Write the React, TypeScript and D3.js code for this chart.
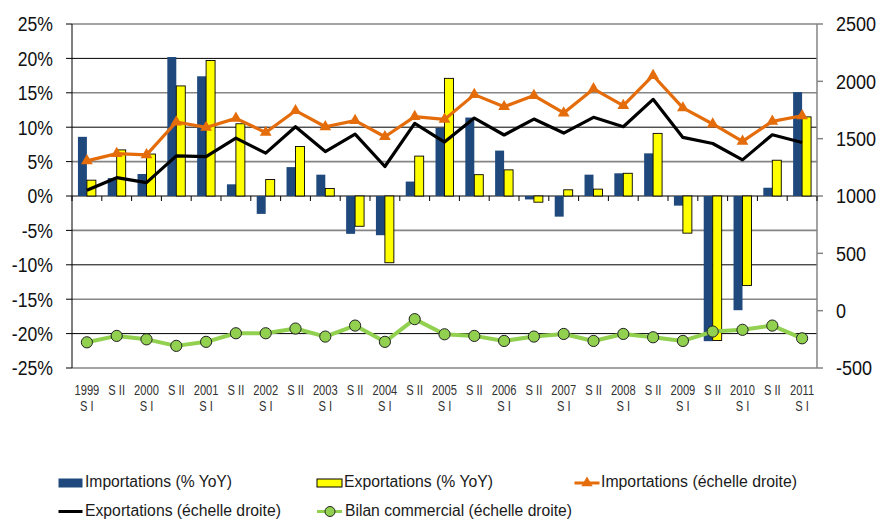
import React from "react";
import * as d3 from "d3";

// semesters, 1999 S I .. 2011 S I
const periods = [
  "1999 S I", "1999 S II", "2000 S I", "2000 S II", "2001 S I", "2001 S II",
  "2002 S I", "2002 S II", "2003 S I", "2003 S II", "2004 S I", "2004 S II",
  "2005 S I", "2005 S II", "2006 S I", "2006 S II", "2007 S I", "2007 S II",
  "2008 S I", "2008 S II", "2009 S I", "2009 S II", "2010 S I", "2010 S II",
  "2011 S I",
];

// % YoY (left axis)
const importsYoY = [8.6, 2.6, 3.2, 20.2, 17.4, 1.7, -2.6, 4.2, 3.1, -5.5, -5.7, 2.1, 9.9, 11.4, 6.6, -0.5, -3.0, 3.1, 3.3, 6.2, -1.4, -21.1, -16.6, 1.2, 15.1];
const exportsYoY = [2.3, 6.7, 6.1, 16.0, 19.7, 10.5, 2.4, 7.2, 1.1, -4.4, -9.7, 5.8, 17.1, 3.1, 3.8, -0.9, 0.9, 1.0, 3.3, 9.1, -5.4, -21.0, -13.0, 5.2, 11.5];

// levels (right axis)
const importsLevel = [1306, 1370, 1359, 1645, 1598, 1677, 1554, 1744, 1604, 1657, 1517, 1692, 1668, 1884, 1779, 1876, 1724, 1934, 1788, 2051, 1768, 1628, 1476, 1651, 1700];
const exportsLevel = [1050, 1160, 1117, 1350, 1344, 1505, 1374, 1604, 1388, 1540, 1257, 1633, 1470, 1680, 1532, 1671, 1549, 1686, 1604, 1843, 1511, 1458, 1315, 1534, 1467];
const balance = [-276, -220, -250, -307, -272, -197, -197, -156, -226, -130, -272, -74, -206, -220, -264, -226, -203, -264, -203, -232, -264, -182, -167, -130, -241];

const leftTicks = [25, 20, 15, 10, 5, 0, -5, -10, -15, -20, -25];
const rightTicks = [2500, 2000, 1500, 1000, 500, 0, -500];

const FONT = "'Liberation Sans', Arial, sans-serif";
const BLUE = "#1f497d";
const YELLOW = "#ffff00";
const ORANGE = "#e46c0a";
const GREEN = "#92d050";

const W = 877;
const H = 522;
const left = 72;
const right = 817;
const top = 24;
const bottom = 368;

// condensed text: the source font is a narrow face, squeeze horizontally
const NText = ({ x, y, size, sx, anchor = "start", fill = "#111", dy = "0", children }: any) => (
  <text
    transform={`translate(${x},${y}) scale(${sx},1)`}
    textAnchor={anchor}
    fontSize={size}
    fill={fill}
    dy={dy}
  >
    {children}
  </text>
);

const App = () => {
  const x = d3.scaleBand().domain(periods).range([left, right]);
  const inner = d3
    .scaleBand()
    .domain(["imp", "exp"])
    .range([0, x.bandwidth()])
    .paddingInner(0)
    .paddingOuter(0.66);
  const yL = d3.scaleLinear().domain([-25, 25]).range([bottom, top]);
  const yR = d3.scaleLinear().domain([-500, 2500]).range([bottom, top]);
  const cx = (i: number) => (x(periods[i]) as number) + x.bandwidth() / 2;

  const line = d3
    .line<number>()
    .x((_, i) => cx(i))
    .y((d) => yR(d));

  const tri = d3.symbol(d3.symbolTriangle, 60)() as string;
  const triSmall = d3.symbol(d3.symbolTriangle, 55)() as string;

  const row1 = 483;
  const row2 = 511.5;

  return (
    <div style={{ position: "absolute", left: 0, top: 0 }}>
      <svg width={W} height={H} style={{ display: "block", background: "#fff" }} fontFamily={FONT}>
        {/* gridlines */}
        {leftTicks.map((t, i) => (
          <line
            key={"g" + t}
            x1={left}
            x2={right}
            y1={yL(t)}
            y2={yL(t)}
            stroke={i % 2 === 0 ? "#858585" : "#000"}
            strokeWidth={i % 2 === 0 ? 1.6 : 1}
          />
        ))}

        {/* bars */}
        {importsYoY.map((v, i) => (
          <rect
            key={"bi" + i}
            x={(x(periods[i]) as number) + (inner("imp") as number)}
            width={inner.bandwidth()}
            y={yL(Math.max(0, v))}
            height={Math.abs(yL(v) - yL(0))}
            fill={BLUE}
          />
        ))}
        {exportsYoY.map((v, i) => (
          <rect
            key={"be" + i}
            x={(x(periods[i]) as number) + (inner("exp") as number)}
            width={inner.bandwidth()}
            y={yL(Math.max(0, v))}
            height={Math.abs(yL(v) - yL(0))}
            fill={YELLOW}
            stroke="#000"
            strokeWidth={0.9}
          />
        ))}

        {/* left axis */}
        <line x1={left} x2={left} y1={top} y2={bottom} stroke="#000" strokeWidth={1} />
        {leftTicks.map((t) => (
          <g key={"lt" + t}>
            <line x1={left - 6} x2={left} y1={yL(t)} y2={yL(t)} stroke="#000" />
            <NText x={53} y={yL(t)} dy="0.36em" anchor="end" size={20.5} sx={0.86}>
              {t}%
            </NText>
          </g>
        ))}

        {/* right axis */}
        <line x1={right} x2={right} y1={top} y2={bottom} stroke="#858585" strokeWidth={1.5} />
        {rightTicks.map((t) => (
          <g key={"rt" + t}>
            <line x1={right} x2={right + 6} y1={yR(t)} y2={yR(t)} stroke="#858585" strokeWidth={1.5} />
            <NText x={836} y={yR(t)} dy="0.36em" size={20.5} sx={0.88}>
              {t}
            </NText>
          </g>
        ))}

        {/* category ticks on zero line */}
        {periods.map((p, i) => (
          <line
            key={"ct" + i}
            x1={x(p) as number}
            x2={x(p) as number}
            y1={yL(0)}
            y2={yL(0) + 5}
            stroke="#000"
          />
        ))}
        <line x1={right} x2={right} y1={yL(0)} y2={yL(0) + 5} stroke="#000" />

        {/* category labels */}
        {periods.map((p, i) => {
          const isFirst = p.endsWith(" S I");
          const c = cx(i);
          return (
            <g key={"cl" + i}>
              <NText x={c} y={395} anchor="middle" size={15.5} sx={0.72} fill="#333">
                {isFirst ? p.slice(0, 4) : "S II"}
              </NText>
              {isFirst && (
                <NText x={c} y={411} anchor="middle" size={15.5} sx={0.72} fill="#333">
                  S I
                </NText>
              )}
            </g>
          );
        })}

        {/* imports level */}
        <path d={line(importsLevel) as string} fill="none" stroke={ORANGE} strokeWidth={3.2} strokeLinejoin="round" />
        {importsLevel.map((v, i) => (
          <path key={"tm" + i} d={tri} transform={`translate(${cx(i)},${yR(v)})`} fill={ORANGE} />
        ))}

        {/* exports level */}
        <path d={line(exportsLevel) as string} fill="none" stroke="#000" strokeWidth={3.2} strokeLinejoin="round" />

        {/* trade balance */}
        <path d={line(balance) as string} fill="none" stroke={GREEN} strokeWidth={4} strokeLinejoin="round" />
        {balance.map((v, i) => (
          <circle key={"bm" + i} cx={cx(i)} cy={yR(v)} r={5.6} fill={GREEN} stroke="#222" strokeWidth={1} />
        ))}

        {/* legend */}
        <g fontSize={16} fill="#1a1a1a">
          <rect x={58.5} y={row1 - 4.5} width={24} height={9} fill={BLUE} />
          <text x={85} y={row1 + 4} textLength={147} lengthAdjust="spacingAndGlyphs">
            Importations (% YoY)
          </text>

          <rect x={317} y={row1 - 4} width={25} height={8} fill={YELLOW} stroke="#000" strokeWidth={1} />
          <text x={344} y={row1 + 4} textLength={149} lengthAdjust="spacingAndGlyphs">
            Exportations (% YoY)
          </text>

          <line x1={574.5} x2={599.5} y1={row1} y2={row1} stroke={ORANGE} strokeWidth={3} />
          <path d={triSmall} transform={`translate(587,${row1})`} fill={ORANGE} />
          <text x={601} y={row1 + 4} textLength={196} lengthAdjust="spacingAndGlyphs">
            Importations (échelle droite)
          </text>

          <line x1={58.5} x2={82.5} y1={row2} y2={row2} stroke="#000" strokeWidth={3} />
          <text x={85} y={row2 + 4} textLength={196} lengthAdjust="spacingAndGlyphs">
            Exportations (échelle droite)
          </text>

          <line x1={317} x2={342} y1={row2} y2={row2} stroke={GREEN} strokeWidth={3} />
          <circle cx={330} cy={row2} r={5} fill={GREEN} stroke="#222" strokeWidth={1} />
          <text x={345} y={row2 + 4} textLength={227} lengthAdjust="spacingAndGlyphs">
            Bilan commercial (échelle droite)
          </text>
        </g>
      </svg>
    </div>
  );
};

export default App;
